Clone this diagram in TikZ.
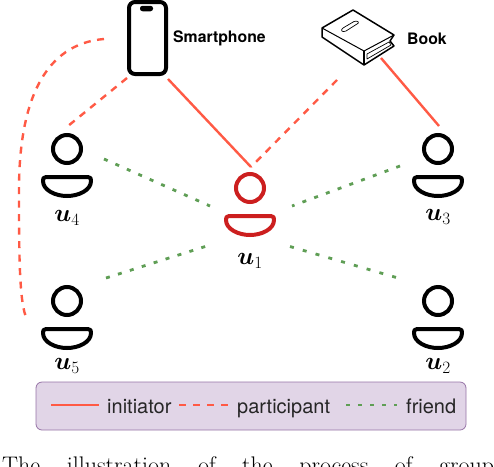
\documentclass[tikz,border=0pt]{standalone}
\usepackage{amsmath,bm}
\usepackage{fontspec}
\setsansfont{TeX Gyre Heros}
\usetikzlibrary{calc}
\definecolor{initc}{HTML}{FF5A45}
\definecolor{friendc}{HTML}{5F9E55}
\definecolor{redu}{HTML}{CC1F1F}
\definecolor{legfill}{HTML}{E1D5E7}
\definecolor{legdraw}{HTML}{9673A6}
\tikzset{
  initiator/.style={draw=initc,line width=2.4pt},
  participant/.style={draw=initc,line width=2.4pt,dash pattern=on 7pt off 6.5pt},
  friendline/.style={draw=friendc,line width=2.8pt,dash pattern=on 4pt off 8.5pt},
  ulabel/.style={font=\fontsize{23}{23}\selectfont,inner sep=0pt},
  objlabel/.style={font=\sffamily\bfseries\fontsize{15.8}{16}\selectfont,inner sep=0pt,anchor=west},
  legtext/.style={font=\sffamily\fontsize{20}{20}\selectfont,inner sep=0pt,anchor=base west,text=black!85},
  person/.pic={
    \draw[line width=4pt,pic actions] (0,-39) circle (14);
    \draw[line width=4pt,line join=round,pic actions] (-21,-11) -- (21,-11)
      .. controls (24,-11) and (24,-9) .. (24,-7) .. controls (24,2) and (12,8) .. (0,8) .. controls (-12,8) and (-24,2) .. (-24,-7) .. controls (-24,-9) and (-24,-11) .. (-21,-11) -- cycle;
  }
}
\begin{document}
\begin{tikzpicture}[x=1pt,y=-1pt]
\useasboundingbox (0,0) rectangle (494,466);
\clip (0,0) rectangle (494,466);
% persons
\pic[draw=black] at (67,188) {person};
\pic[draw=black] at (67,340) {person};
\pic[draw=black] at (438,188) {person};
\pic[draw=black] at (438,340) {person};
\pic[draw=redu] at (250,227) {person};
\node[ulabel] (lu4) at (67,218) {$\bm{u}_4$};
\node[ulabel] (lu5) at (67,366) {$\bm{u}_5$};
\node[ulabel] (lu3) at (438,217) {$\bm{u}_3$};
\node[ulabel] (lu2) at (438,366) {$\bm{u}_2$};
\node[ulabel] (lu1) at (250,261) {$\bm{u}_1$};
% smartphone
\node[draw=black,line width=4pt,rounded corners=6pt,minimum width=37pt,minimum height=72pt,inner sep=0pt,outer sep=0pt] (phone) at (147.5,38) {};
\node[fill=black,rounded corners=2.5pt,minimum width=13pt,minimum height=5.5pt,inner sep=0pt] (notch) at (146.5,8.5) {};
\node[objlabel] (phonelabel) at (173,38.5) {Smartphone};
% book
\begin{scope}[draw=black,line join=round]
\draw[line width=1.5pt,fill=white] (353,10) -- (322,28) -- (322,37) -- (364,65) -- (394,46) -- (390,41) -- (394,35) -- cycle;
\draw[line width=1pt] (322,28) -- (364,51) -- (394,35);
\draw[line width=1.3pt] (364,51) -- (364,65);
\draw[line width=.7pt] (367,54) -- (389,42) -- (391,45) -- (367,59) -- cycle;
\draw[line width=.7pt] (343,28) -- (354,21.5) .. controls (358,20) and (360,23) .. (357,24) -- (346,31) .. controls (342,33) and (340,30) .. (343,28) -- cycle;
\end{scope}
\node[objlabel] (booklabel) at (407,38.5) {Book};
% connector ends
\coordinate (phoneR) at (168,79);
\coordinate (phoneL) at (127,78);
\coordinate (phoneW) at (104,39);
\coordinate (bookD) at (337,80);
\coordinate (bookS) at (381,58);
\coordinate (u1top) at (251,167);
\coordinate (u4top) at (68,126);
\coordinate (u3top) at (439,126);
\coordinate (u5side) at (27,319);
\coordinate (u4f) at (104,159);
\coordinate (u5f) at (106,278);
\coordinate (u3f) at (400,166);
\coordinate (u2f) at (398,278);
\coordinate (u1a) at (210,206);
\coordinate (u1b) at (292,206);
\coordinate (u1c) at (210,245);
\coordinate (u1d) at (290,246.5);
% connectors
\draw[initiator] (phoneR) -- (u1top);
\draw[initiator] (bookS) -- (u3top);
\draw[participant] (bookD) -- (u1top);
\draw[participant] (phoneL) -- (u4top);
\draw[participant] (phoneW) .. controls (45,44) and (19,100) .. (19,190) .. controls (19,250) and (19,305) .. (u5side);
\draw[friendline] (u4f) -- (u1a);
\draw[friendline] (u5f) -- (u1c);
\draw[friendline] (u3f) -- (u1b);
\draw[friendline,dash pattern=on 4pt off 9.3pt] (u1d) -- (u2f);
% legend
\node[draw=legdraw,fill=legfill,line width=.8pt,rounded corners=6pt,minimum width=430pt,minimum height=48pt,inner sep=0pt] (legend) at (251,406) {};
\coordinate (s1) at (51,405); \coordinate (s2) at (99,405);
\coordinate (d1) at (179,405); \coordinate (d2) at (228,405);
\coordinate (f1) at (346,405); \coordinate (f2) at (397,405);
\draw[initiator] (s1) -- (s2);
\draw[participant,dash pattern=on 7pt off 7pt] (d1) -- (d2);
\draw[friendline,dash pattern=on 3.5pt off 8.5pt] (f1) -- (f2);
\node[legtext] (tinit) at (107,413) {initiator};
\node[legtext] (tpart) at (237,413) {participant};
\node[legtext] (tfriend) at (406,413) {friend};
% caption
\node[anchor=base west,inner sep=0pt,font=\rmfamily\fontsize{24}{24}\selectfont] (caption) at (2,473) {\makebox[492pt][s]{The illustration of the process of group}};
\end{tikzpicture}
\end{document}
